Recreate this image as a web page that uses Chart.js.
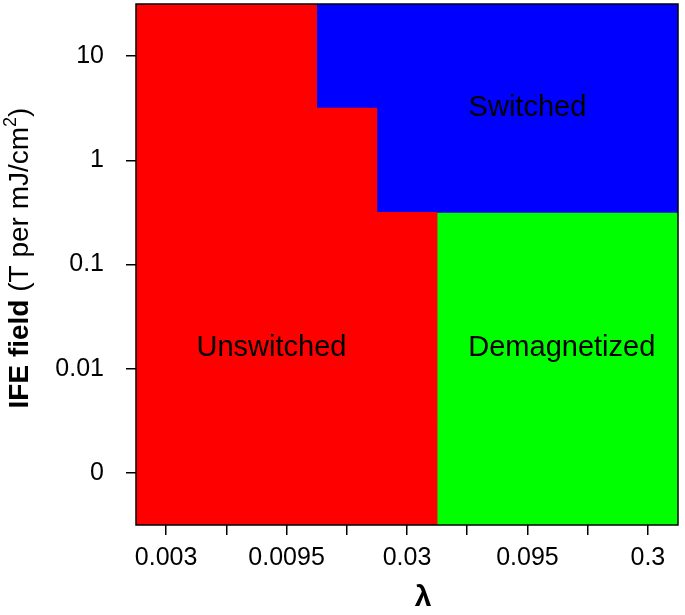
<!DOCTYPE html>
<html>
<head>
<meta charset="utf-8">
<script src="https://cdn.jsdelivr.net/npm/chart.js@4.4.0/dist/chart.umd.min.js"></script>
<style>
  body { margin: 0; background: #fff; }
  #wrap { width: 685px; height: 615px; }
</style>
</head>
<body>
<div id="wrap"><canvas id="phase-chart" width="685" height="615"></canvas></div>
<script>
// IFE field rows (top to bottom) and lambda columns
const fieldLabels = ['10', '1', '0.1', '0.01', '0'];
const lambdaLabels = ['0.003', '', '0.0095', '', '0.03', '', '0.095', '', '0.3'];

// regime of every cell, one string per field row
// U = unswitched, S = switched, D = demagnetized
const phaseRows = [
    'UUUSSSSSS',
    'UUUUSSSSS',
    'UUUUUDDDD',
    'UUUUUDDDD',
    'UUUUUDDDD'
];

const regimeCodes = ['U', 'S', 'D'];
const regimeNames = ['Unswitched', 'Switched', 'Demagnetized'];
const regimeColors = ['#ff0000', '#0000ff', '#00ff00'];

// where the regime names sit, in column / row units
const labelCols = [1.75, 6.0, 6.57];
const labelRows = [2.8, 0.5, 2.8];

// Turn each row string into a floating bar [from, to] for one regime
function spanOf(row, code) {
    const first = row.indexOf(code);
    if (first < 0) return null;
    const last = row.lastIndexOf(code);
    return [first - 0.5, last + 0.5];
}

const datasets = regimeCodes.map((code, i) => ({
    label: regimeNames[i],
    data: phaseRows.map(row => spanOf(row, code)),
    backgroundColor: regimeColors[i],
    borderWidth: 0,
    barPercentage: 1,
    categoryPercentage: 1,
    grouped: false
}));

// Frame, region names and axis titles
const decorPlugin = {
    id: 'decor',
    afterDatasetsDraw(chart) {
        const ctx = chart.ctx;
        const area = chart.chartArea;
        const xs = chart.scales.x;
        const ys = chart.scales.y;
        ctx.save();

        // region names
        ctx.fillStyle = '#000';
        ctx.font = '29px "Liberation Sans", Arial, sans-serif';
        ctx.textAlign = 'center';
        ctx.textBaseline = 'middle';
        regimeNames.forEach((name, i) => {
            const px = xs.getPixelForValue(labelCols[i]);
            const row0 = ys.getPixelForValue(0);
            const row1 = ys.getPixelForValue(1);
            const py = row0 + (row1 - row0) * labelRows[i];
            ctx.fillText(name, px, py);
        });

        // box around the plot
        ctx.strokeStyle = '#000';
        ctx.lineWidth = 1.5;
        ctx.strokeRect(area.left, area.top, area.right - area.left, area.bottom - area.top);

        // x title
        ctx.font = 'bold 30px "Liberation Sans", Arial, sans-serif';
        ctx.fillText('λ', 423, 598);

        // y title, mixed bold / normal with superscript
        const parts = [
            { t: 'IFE field', f: 'bold 28px "Liberation Sans", Arial, sans-serif', dy: 0 },
            { t: ' (T per mJ/cm', f: '28px "Liberation Sans", Arial, sans-serif', dy: 0 },
            { t: '2', f: '18px "Liberation Sans", Arial, sans-serif', dy: -9 },
            { t: ')', f: '28px "Liberation Sans", Arial, sans-serif', dy: 0 }
        ];
        let total = 0;
        parts.forEach(p => { ctx.font = p.f; p.w = ctx.measureText(p.t).width; total += p.w; });
        ctx.translate(20, 258);
        ctx.rotate(-Math.PI / 2);
        ctx.textAlign = 'left';
        let cx = -total / 2;
        parts.forEach(p => {
            ctx.font = p.f;
            ctx.fillText(p.t, cx, p.dy);
            cx += p.w;
        });
        ctx.restore();
    }
};

const tickFont = { family: '"Liberation Sans", Arial, sans-serif', size: 25 };

new Chart(document.getElementById('phase-chart'), {
    type: 'bar',
    data: {
        labels: fieldLabels,
        datasets: datasets
    },
    options: {
        indexAxis: 'y',
        responsive: false,
        animation: false,
        layout: { padding: { top: 4, right: 7, left: 0, bottom: 0 } },
        plugins: {
            legend: { display: false },
            tooltip: { enabled: false }
        },
        scales: {
            x: {
                type: 'linear',
                min: -0.5,
                max: 8.5,
                afterFit(scale) {
                    scale.height = 90;
                    scale.paddingLeft = 0;
                    scale.paddingRight = 0;
                },
                afterBuildTicks(scale) {
                    scale.ticks = lambdaLabels.map((l, i) => ({ value: i }));
                },
                ticks: {
                    autoSkip: false,
                    maxRotation: 0,
                    color: '#000',
                    font: tickFont,
                    padding: 8,
                    callback: (v) => lambdaLabels[v]
                },
                grid: {
                    drawOnChartArea: false,
                    drawTicks: true,
                    tickLength: 10,
                    color: '#000',
                    lineWidth: 1.5
                },
                border: { display: false }
            },
            y: {
                type: 'category',
                afterFit(scale) {
                    scale.width = 136;
                    scale.paddingTop = 0;
                    scale.paddingBottom = 0;
                },
                ticks: {
                    color: '#000',
                    font: tickFont,
                    padding: 22
                },
                grid: {
                    offset: false,
                    drawOnChartArea: false,
                    drawTicks: true,
                    tickLength: 10,
                    color: '#000',
                    lineWidth: 1.5
                },
                border: { display: false }
            }
        }
    },
    plugins: [decorPlugin]
});
</script>
</body>
</html>
